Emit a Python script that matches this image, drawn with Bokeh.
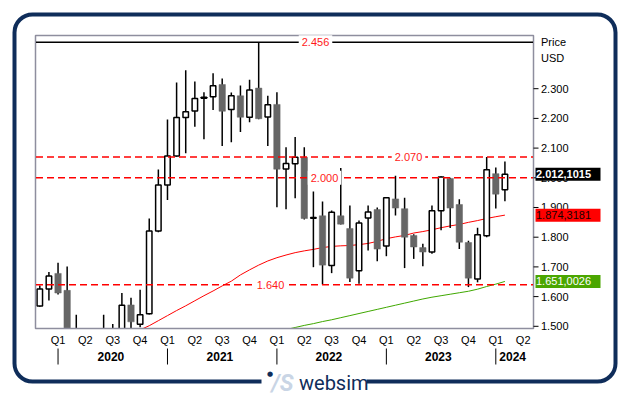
from bokeh.plotting import figure
from bokeh.models import Label, BoxAnnotation, ColumnDataSource
from bokeh.core.properties import value
from bokeh.embed import file_html
from bokeh.resources import INLINE

NaN = float("nan")

# ---------------- data (monthly candles, values in USD) ----------------
opens = [1568, 1626, 1678, 1621, 1460, 1470, 1430, 1465, 1480, 1470, 1572, 1507,
         1542, 1821, 1976, 2073, 2203, 2225, 2268, 2273, 2314, 2230, 2276, 2204,
         2302, 2205, 2247, 2030, 2047, 2069, 1864, 1872, 1705, 1872, 1829, 1687,
         1865, 1893, 1770, 1929, 1896, 1806, 1765, 1750, 1889, 1998, 1910, 1782,
         1659, 1805, 2014, 1960]
highs = [1637, 1683, 1714, 1701, 1539, 1485, 1480, 1539, 1508, 1612, 1596, 1623,
         1863, 2028, 2196, 2321, 2362, 2324, 2288, 2352, 2334, 2287, 2311, 2330,
         2456, 2276, 2288, 2103, 2137, 2103, 1954, 1920, 1890, 2033, 1907, 1856,
         1907, 1900, 1935, 2007, 1933, 1810, 1778, 1907, 2005, 2000, 1928, 1788,
         1832, 2070, 2035, 2055]
lows = [1566, 1587, 1607, 1440, 1420, 1400, 1410, 1450, 1460, 1460, 1480, 1497,
        1540, 1817, 1925, 2071, 2083, 2172, 2130, 2228, 2107, 2120, 2154, 2187,
        2197, 2107, 1901, 1894, 1931, 1860, 1699, 1641, 1679, 1843, 1649, 1643,
        1755, 1719, 1736, 1873, 1696, 1727, 1702, 1744, 1823, 1831, 1760, 1632,
        1648, 1800, 1897, 1921]
closes = [1626, 1669, 1612, 1450, 1470, 1430, 1465, 1480, 1470, 1571, 1515, 1539,
          1821, 1976, 2073, 2203, 2222, 2267, 2271, 2310, 2224, 2276, 2204, 2296,
          2199, 2246, 2029, 2048, 2069, 1863, 1866, 1706, 1884, 1844, 1662, 1848,
          1885, 1760, 1933, 1898, 1800, 1767, 1750, 1889, 2003, 1898, 1783, 1662,
          1808, 2027, 1945, 2012.1015]

ma_red = [NaN] * 11 + [1488, 1502, 1519, 1536, 1553, 1569, 1586, 1603, 1619, 1636,
                       1652, 1673, 1690, 1706, 1720, 1731, 1740, 1748, 1754, 1759,
                       1765, 1769, 1771, 1772, 1775, 1779, 1786, 1795, 1801, 1806,
                       1814, 1819, 1825, 1832, 1838, 1843, 1850, 1856, 1863, 1869,
                       1874.3181]
ma_green = [NaN] * 27 + [1489, 1496, 1503, 1509, 1516, 1522, 1529, 1536, 1543, 1550,
                         1557, 1564, 1571, 1578, 1585, 1592, 1598, 1603, 1608, 1613,
                         1618, 1625, 1634, 1642, 1651.0026]

price_ticks = [1500, 1600, 1700, 1800, 1900, 2000, 2100, 2200, 2300]
level_max = 2456
levels_dashed = [2070, 2000, 1640]

quarter_pos = [2, 5, 8, 11, 14, 17, 20, 23, 26, 29, 32, 35, 38, 41, 44, 47, 50, 53]
quarter_labels = ["Q1", "Q2", "Q3", "Q4"] * 4 + ["Q1", "Q2"]
year_sep = [2, 14, 26, 38, 50]
year_pos = [7.8, 19.75, 31.7, 43.7, 51.85]
year_labels = ["2020", "2021", "2022", "2023", "2024"]

# ---------------- layout helpers (page pixel -> data) ----------------
W, H = 629, 395
PX0, PY0, PY1 = 39.3, 35, 328          # first candle centre, plot top / bottom
DX = 9.12                              # pixels per candle
Y_TOP, Y_BOT = 2479.1, 1492.6          # values at plot top / bottom
def X(px):
    return (px - PX0) / DX
def Y(py):
    return Y_TOP - (py - PY0) * (Y_TOP - Y_BOT) / (PY1 - PY0)
PXU = (Y_TOP - Y_BOT) / (PY1 - PY0)

NAVY = "#0f2d5a"
FONT = "Liberation Sans"
F = value(FONT)

p = figure(width=W, height=H, x_range=(X(0), X(W)), y_range=(Y(H), Y(0)),
           output_backend="svg", toolbar_location=None,
           x_axis_location=None, y_axis_location=None,
           min_border=0, min_border_left=0, min_border_right=0,
           min_border_top=0, min_border_bottom=0)
p.grid.visible = False
p.outline_line_color = None
p.background_fill_color = "white"
p.border_fill_color = "white"

# ---------------- candles and moving averages ----------------
idx = list(range(len(opens)))
src = ColumnDataSource(dict(x=idx, o=opens, h=highs, l=lows, c=closes))
up = [i for i in idx if closes[i] >= opens[i]]
dn = [i for i in idx if closes[i] < opens[i]]
src_up = ColumnDataSource(dict(x=up, o=[opens[i] for i in up], c=[closes[i] for i in up]))
src_dn = ColumnDataSource(dict(x=dn, o=[opens[i] for i in dn], c=[closes[i] for i in dn]))

p.line(idx, ma_red, line_color="#ff0000", line_width=1)
p.line(idx, ma_green, line_color="#3fa800", line_width=1)
p.segment(x0="x", y0="l", x1="x", y1="h", source=src, line_color="black", line_width=1.5)
p.vbar(x="x", width=0.7, top="o", bottom="c", source=src_dn,
       fill_color="#666666", line_color="#666666", line_width=0.5)
p.vbar(x="x", width=0.6, top="c", bottom="o", source=src_up,
       fill_color="white", line_color="black", line_width=1.5)

# mask everything below the plot area, then draw the plot outline
p.quad(left=X(0), right=X(W), bottom=Y(H), top=Y(PY1 + 0.6),
       fill_color="white", line_color=None)
p.quad(left=X(35), right=X(533), top=Y(PY0), bottom=Y(PY1),
       fill_color=None, line_color="#8e8e9e", line_width=1.5)

# ---------------- horizontal levels ----------------
p.segment(x0=X(35.5), x1=X(532.5), y0=level_max, y1=level_max,
          line_color="black", line_width=1.5)
p.segment(x0=[X(35.5)] * 3, x1=[X(532.5)] * 3, y0=levels_dashed, y1=levels_dashed,
          line_color="#ff0000", line_width=1.5, line_dash="7 4")

# ---------------- right price scale ----------------
p.segment(x0=[X(533)] * len(price_ticks), x1=[X(538)] * len(price_ticks),
          y0=price_ticks, y1=price_ticks, line_color="black", line_width=1)
p.text(x=[X(540.5)] * len(price_ticks), y=price_ticks,
       text=[f"{t/1000:.3f}" for t in price_ticks],
       text_align="left", text_baseline="middle", text_font=F,
       text_font_size="11px", text_color="black")
p.text(x=[X(540.5)] * 2, y=[Y(41.5), Y(57)], text=["Price", "USD"],
       text_align="left", text_baseline="middle", text_font=F,
       text_font_size="11px", text_color="black")

def eu(v):
    s = f"{v:,.4f}"
    return s.replace(",", "_").replace(".", ",").replace("_", ".")

tag_vals = [closes[-1], ma_red[-1], ma_green[-1]]
tag_bg = ["#000000", "#ff0000", "#4ba600"]
tag_fg = ["white", "#1a0000", "white"]
tag_style = ["bold", "normal", "normal"]
p.quad(left=[X(535)] * 3, right=[X(600)] * 3,
       top=[v + 6.5 * PXU for v in tag_vals], bottom=[v - 6.5 * PXU for v in tag_vals],
       fill_color=tag_bg, line_color=None)
for v, fg, st in zip(tag_vals, tag_fg, tag_style):
    p.text(x=[X(535.5)], y=[v], text=[eu(v)], text_align="left",
           text_baseline="middle", text_font=F, text_font_size="11px",
           text_color=fg, text_font_style=st)

# ---------------- time scale ----------------
p.text(x=quarter_pos, y=[Y(339.5)] * len(quarter_pos), text=quarter_labels,
       text_align="center", text_baseline="middle", text_font=F,
       text_font_size="11px", text_color="black")
p.segment(x0=year_sep, x1=year_sep, y0=[Y(348)] * len(year_sep),
          y1=[Y(364)] * len(year_sep), line_color="black", line_width=1)
p.text(x=year_pos, y=[Y(355.5)] * len(year_pos), text=year_labels,
       text_align="center", text_baseline="middle", text_font=F,
       text_font_size="12px", text_font_style="bold", text_color="black")

# ---------------- level value labels ----------------
lab_x = {level_max: X(315), 2070: X(408), 2000: X(324), 1640: X(270)}
for lv in [level_max] + levels_dashed:
    p.add_layout(Label(x=lab_x[lv], y=lv, text=f"{lv/1000:.3f}", text_align="center",
                       text_baseline="middle", text_color="#ff1a1a",
                       text_font=FONT, text_font_size="11px",
                       background_fill_color="white", padding=3))

# ---------------- outer rounded border and logo ----------------
p.add_layout(BoxAnnotation(left=X(14), right=X(615), top=Y(14), bottom=Y(381),
                           fill_alpha=0, line_color=NAVY, line_alpha=1,
                           line_width=4, border_radius=18))
p.add_layout(BoxAnnotation(left=X(261), right=X(366), top=Y(373), bottom=Y(389),
                           fill_color="white", fill_alpha=1, line_color=None))
p.add_layout(Label(x=X(269.5), y=Y(373.5), text="\u25CF", text_align="center",
                   text_baseline="middle", text_color=NAVY,
                   text_font="DejaVu Sans", text_font_size="7px"))
p.add_layout(Label(x=X(271), y=Y(382.5), text="/S", text_align="left",
                   text_baseline="middle", text_color="#c9d5e5",
                   text_font="Roboto", text_font_style="bold italic",
                   text_font_size="23px"))
p.add_layout(Label(x=X(298.5), y=Y(382), text="websim", text_align="left",
                   text_baseline="middle", text_color=NAVY,
                   text_font="Roboto", text_font_size="20px"))

open("out.html", "w").write(file_html(p, INLINE))
